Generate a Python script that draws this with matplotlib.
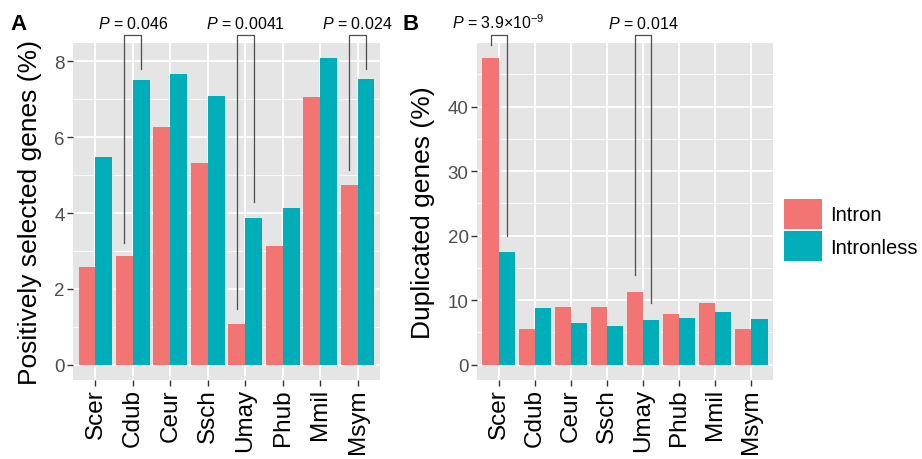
import numpy as np
import matplotlib
matplotlib.use("Agg")
import matplotlib.pyplot as plt
from matplotlib.patches import Patch

plt.rcParams['font.family'] = ['Liberation Sans', 'DejaVu Sans']
plt.rcParams['mathtext.fontset'] = 'custom'
plt.rcParams['mathtext.rm'] = 'Liberation Sans'
plt.rcParams['mathtext.it'] = 'Liberation Sans:italic'

species = ['Scer', 'Cdub', 'Ceur', 'Ssch', 'Umay', 'Phub', 'Mmil', 'Msym']

# panel A: positively selected genes (%)
pos_intron = [2.57, 2.86, 6.26, 5.31, 1.06, 3.12, 7.05, 4.74]
pos_intronless = [5.47, 7.51, 7.66, 7.08, 3.86, 4.13, 8.08, 7.53]

# panel B: duplicated genes (%)
dup_intron = [47.5, 5.6, 9.0, 9.0, 11.3, 7.8, 9.5, 5.6]
dup_intronless = [17.4, 8.85, 6.5, 6.05, 7.0, 7.3, 8.2, 7.15]

# significance brackets: species index, left end, right end, label
pos_sig = [(1, 3.22, 7.8, r'$\it{P}$ = 0.046'),
           (4, 1.46, 4.28, r'$\it{P}$ = 0.0041'),
           (7, 5.14, 7.8, r'$\it{P}$ = 0.024')]
pos_top = 8.7
dup_sig = [(0, 49.6, 20.0, r'$\it{P}$ = 3.9×10$^{-9}$'),
           (4, 13.9, 9.5, r'$\it{P}$ = 0.014')]
dup_top = 51.1

c_in = '#F37573'
c_less = '#00AEBA'
bg = '#E5E5E5'

fig = plt.figure(figsize=(9.22, 4.60), dpi=100)
axA = fig.add_axes([73/922, 79/460, 307/922, 337/460])
axB = fig.add_axes([477/922, 79/460, 296/922, 337/460])


def draw_panel(ax, a, b, sig, top, ylabel, major, minor):
    x = np.arange(len(species))
    ax.set_facecolor(bg)
    for s in ax.spines.values():
        s.set_visible(False)
    ax.set_axisbelow(True)
    ymax = max(max(a), max(b))
    ax.set_xlim(-0.6, len(species) - 0.4)
    ax.set_ylim(-0.05 * ymax, 1.05 * ymax)
    ax.set_yticks(major)
    ax.set_yticks(minor, minor=True)
    ax.set_xticks(x)
    ax.set_xticklabels(species, rotation=90)
    ax.grid(True, which='major', color='white', linewidth=1.3)
    ax.grid(True, which='minor', axis='y', color='white', linewidth=0.6)
    ax.tick_params(which='major', length=4, width=1, color='#333333',
                   labelsize=13.5, labelcolor='#4D4D4D', pad=2)
    ax.tick_params(axis='x', labelcolor='black', labelsize=17.5)
    ax.tick_params(which='minor', length=0)
    ax.bar(x - 0.225, a, width=0.45, color=c_in)
    ax.bar(x + 0.225, b, width=0.45, color=c_less)
    ax.set_ylabel(ylabel, fontsize=19, labelpad=9)
    for i, lo, hi, lab in sig:
        ax.plot([i - 0.225, i - 0.225, i + 0.225, i + 0.225], [lo, top, top, hi],
                color='#4D4D4D', linewidth=0.9, clip_on=False)
        ax.annotate(lab, (i, top), xytext=(0, 3), textcoords='offset points',
                    ha='center', va='bottom', fontsize=11.5, annotation_clip=False)


draw_panel(axA, pos_intron, pos_intronless, pos_sig, pos_top,
           'Positively selected genes (%)', [0, 2, 4, 6, 8], [1, 3, 5, 7])
draw_panel(axB, dup_intron, dup_intronless, dup_sig, dup_top,
           'Duplicated genes (%)', [0, 10, 20, 30, 40], [5, 15, 25, 35, 45])

fig.text(10/922, 1 - 25/460, 'A', fontsize=16, fontweight='bold', va='center')
fig.text(402/922, 1 - 25/460, 'B', fontsize=16, fontweight='bold', va='center')

handles = [Patch(facecolor=c_in, label='Intron'),
           Patch(facecolor=c_less, label='Intronless')]
fig.legend(handles=handles, loc='center left', bbox_to_anchor=(784/922, 0.498),
           frameon=False, fontsize=14.5, handlelength=1.9, handleheight=1.9,
           handletextpad=0.4, labelspacing=0.13, borderpad=0, borderaxespad=0)

fig.savefig('out.png', dpi=100)
